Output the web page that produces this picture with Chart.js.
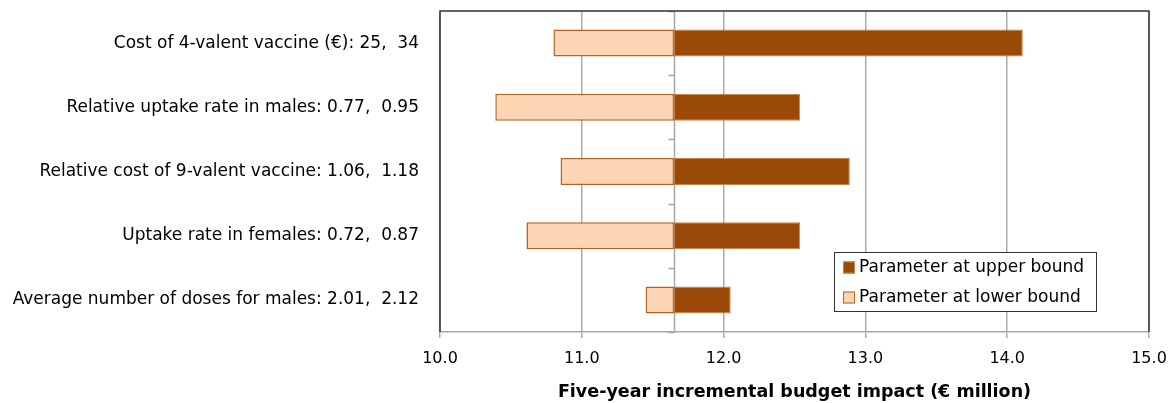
<!DOCTYPE html>
<html>
<head>
<meta charset="utf-8">
<title>Tornado diagram</title>
<script src="https://cdn.jsdelivr.net/npm/chart.js@4.4.1/dist/chart.umd.min.js"></script>
<style>
    html, body { margin: 0; padding: 0; background: #fff; }
    #wrap { width: 1172px; height: 403px; position: relative; }
</style>
</head>
<body>
<div id="wrap"><canvas id="myChart"></canvas></div>
<script>
// Datos del gráfico
const parameters = [
    'Cost of 4-valent vaccine (€): 25,  34',
    'Relative uptake rate in males: 0.77,  0.95',
    'Relative cost of 9-valent vaccine: 1.06,  1.18',
    'Uptake rate in females: 0.72,  0.87',
    'Average number of doses for males: 2.01,  2.12'
];
const baseValue = 11.65;
const upperBoundValues = [14.11, 12.54, 12.89, 12.54, 12.05];
const lowerBoundValues = [10.80, 10.39, 10.85, 10.61, 11.45];
const seriesNames = ['Parameter at upper bound', 'Parameter at lower bound'];
const xMin = 10;
const xMax = 15;

document.addEventListener('DOMContentLoaded', () => {
    const ctx = document.getElementById('myChart').getContext('2d');
    const fontFamily = "'DejaVu Sans', sans-serif";

    // Borde del área, línea base y leyenda dibujados a mano
    const tornadoExtras = {
        id: 'tornadoExtras',
        beforeDatasetsDraw: (chart) => {
            const { ctx, chartArea, scales } = chart;
            const xBase = Math.round(scales.x.getPixelForValue(baseValue)) + 0.5;
            ctx.save();
            ctx.strokeStyle = '#a6a6a6';
            ctx.lineWidth = 1.5;
            ctx.beginPath();
            ctx.moveTo(xBase, chartArea.top);
            ctx.lineTo(xBase, chartArea.bottom);
            // marcas entre categorías
            const n = parameters.length;
            for (let i = 0; i <= n; i++) {
                const y = Math.round(chartArea.top + i * (chartArea.bottom - chartArea.top) / n) + 0.5;
                ctx.moveTo(xBase - 6, y);
                ctx.lineTo(xBase, y);
            }
            ctx.stroke();
            ctx.restore();
        },
        afterDraw: (chart) => {
            const { ctx, chartArea } = chart;
            ctx.save();
            ctx.strokeStyle = '#333';
            ctx.lineWidth = 1.5;
            ctx.beginPath();
            ctx.moveTo(chartArea.left, chartArea.bottom);
            ctx.lineTo(chartArea.left, chartArea.top);
            ctx.lineTo(chartArea.right, chartArea.top);
            ctx.lineTo(chartArea.right, chartArea.bottom);
            ctx.stroke();

            // leyenda
            const box = { x: 834.5, y: 252.5, w: 262, h: 59 };
            ctx.fillStyle = '#fff';
            ctx.fillRect(box.x, box.y, box.w, box.h);
            ctx.strokeStyle = '#333';
            ctx.lineWidth = 1;
            ctx.strokeRect(box.x, box.y, box.w, box.h);
            ctx.font = '17px ' + fontFamily;
            ctx.textBaseline = 'middle';
            ctx.textAlign = 'left';
            chart.data.datasets.forEach((ds, i) => {
                const cy = box.y + 15 + i * 30;
                ctx.fillStyle = ds.backgroundColor;
                ctx.fillRect(843, cy - 6, 12, 12);
                ctx.strokeStyle = ds.borderColor;
                ctx.lineWidth = 1;
                ctx.strokeRect(843.5, cy - 5.5, 11, 11);
                ctx.fillStyle = '#000';
                ctx.fillText(ds.label, 859, cy);
            });
            ctx.restore();
        }
    };

    const config = {
        type: 'bar',
        data: {
            labels: parameters,
            datasets: [{
                label: seriesNames[0],
                data: upperBoundValues.map(v => [baseValue, v]),
                backgroundColor: '#9a4a06',
                borderColor: '#c08552',
                borderWidth: 1,
                borderSkipped: false,
                grouped: false,
                categoryPercentage: 0.42,
                barPercentage: 1
            }, {
                label: seriesNames[1],
                data: lowerBoundValues.map(v => [v, baseValue]),
                backgroundColor: '#fcd5b4',
                borderColor: '#b3621f',
                borderWidth: 1.5,
                borderSkipped: false,
                grouped: false,
                categoryPercentage: 0.42,
                barPercentage: 1
            }]
        },
        options: {
            indexAxis: 'y',
            responsive: true,
            maintainAspectRatio: false,
            animation: false,
            layout: { padding: { top: 11, right: 23, left: 0, bottom: 0 } },
            plugins: {
                legend: { display: false },
                tooltip: { enabled: false }
            },
            scales: {
                x: {
                    min: xMin,
                    max: xMax,
                    ticks: {
                        stepSize: 1,
                        color: '#000',
                        padding: 11,
                        font: { family: fontFamily, size: 16 },
                        callback: (v) => Number(v).toFixed(1)
                    },
                    grid: {
                        color: '#ababab',
                        lineWidth: 1.5,
                        tickLength: 6,
                        tickColor: '#ababab'
                    },
                    border: { color: '#a6a6a6', width: 1.5 },
                    title: {
                        display: true,
                        text: 'Five-year incremental budget impact (€ million)',
                        color: '#000',
                        font: { family: fontFamily, size: 17.5, weight: 'bold' },
                        padding: { top: 0, bottom: 0 }
                    },
                    afterFit: (scale) => {
                        scale.height = 71;
                        scale.paddingLeft = 0;
                        scale.paddingRight = 0;
                    }
                },
                y: {
                    ticks: {
                        color: '#000',
                        padding: 21,
                        font: { family: fontFamily, size: 17 }
                    },
                    grid: { display: false, drawTicks: false },
                    border: { display: false },
                    afterFit: (scale) => {
                        scale.width = 440;
                        scale.paddingTop = 0;
                        scale.paddingBottom = 0;
                    }
                }
            }
        },
        plugins: [tornadoExtras]
    };

    new Chart(ctx, config);
});
</script>
</body>
</html>
